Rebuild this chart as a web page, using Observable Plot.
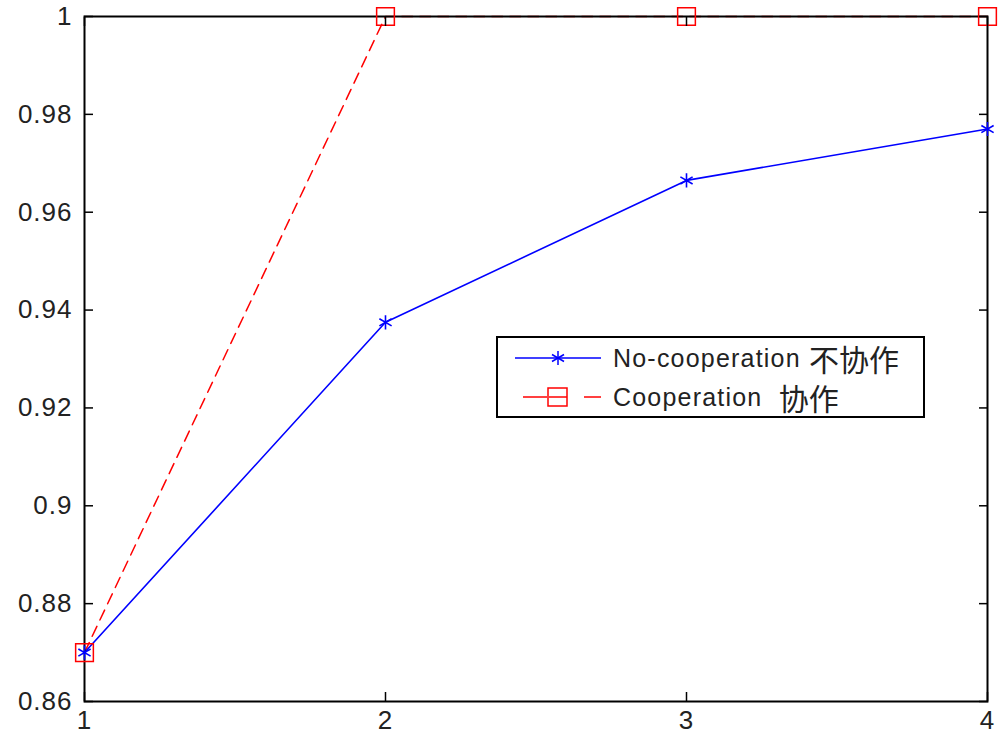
<!DOCTYPE html>
<html><head><meta charset="utf-8">
<script src="https://cdn.jsdelivr.net/npm/d3@7"></script>
<script src="https://cdn.jsdelivr.net/npm/@observablehq/plot@0.6"></script>
<style>
body{margin:0;background:#fff}
#wrap{position:relative;width:998px;height:737px}
.legend{position:absolute;left:496px;top:336px;width:429px;height:82px;border:2px solid #000;background:#fff;
 font-family:"Liberation Sans","Noto Sans CJK SC",Arial,sans-serif;font-size:25px;color:#222;box-sizing:border-box}
.row{position:absolute;left:0;height:32px;display:flex;align-items:center;white-space:pre}
.row svg{margin-left:15px;margin-right:10px}
.lat{letter-spacing:1.2px}
.cjk{font-family:"Noto Sans CJK SC",sans-serif;font-size:30px}
</style></head><body><div id="wrap"></div>
<script>
const xValues = [1, 2, 3, 4];
const noCoop = [0.87, 0.9375, 0.9665, 0.977];
const coop = [0.87, 1, 1, 1];
const yTicks = [0.86, 0.88, 0.9, 0.92, 0.94, 0.96, 0.98, 1];
const yTickLabels = ["0.86", "0.88", "0.9", "0.92", "0.94", "0.96", "0.98", "1"];
const xTickLabels = ["1", "2", "3", "4"];
const seriesNames = ["No-cooperation 不协作", "Cooperation  协作"];

const noData = xValues.map((x, i) => ({x, y: noCoop[i]}));
const coData = xValues.map((x, i) => ({x, y: coop[i]}));

const font = '"Liberation Sans","Noto Sans CJK SC",Arial,sans-serif';
const chart = Plot.plot({
  width: 998, height: 737,
  marginLeft: 84, marginRight: 11, marginTop: 16, marginBottom: 36,
  x: {domain: [1, 4]},
  y: {domain: [0.86, 1]},
  style: {fontFamily: font, fontSize: "26px", color: "#222", background: "#fff", letterSpacing: "1px"},
  marks: [
    Plot.line(coData, {x: "x", y: "y", stroke: "#ff0000", strokeWidth: 1.5, strokeDasharray: "11,7"}),
    Plot.line(noData, {x: "x", y: "y", stroke: "#0000ff", strokeWidth: 1.6}),
    Plot.frame({stroke: "#000", strokeWidth: 2}),
    Plot.dot(noData, {x: "x", y: "y", symbol: "asterisk", r: 6.7, stroke: "#0000ff", strokeWidth: 1.6}),
    Plot.dot(coData, {x: "x", y: "y", symbol: "square", r: 10, stroke: "#ff0000", fill: "none", strokeWidth: 1.5}),
    Plot.axisY(yTicks, {anchor: "left", tickSize: -9, tickFormat: () => "", label: null, stroke: "#000", strokeWidth: 1.5}),
    Plot.axisY(yTicks, {anchor: "right", tickSize: -9, tickFormat: () => "", label: null, stroke: "#000", strokeWidth: 1.5}),
    Plot.axisY(yTicks, {anchor: "left", tickSize: 0, tickPadding: 12, tickFormat: d => yTickLabels[yTicks.indexOf(d)], label: null}),
    Plot.axisX(xValues, {anchor: "bottom", tickSize: -9, tickFormat: () => "", label: null, stroke: "#000", strokeWidth: 1.5}),
    Plot.axisX(xValues, {anchor: "top", tickSize: -9, tickFormat: () => "", label: null, stroke: "#000", strokeWidth: 1.5}),
    Plot.axisX(xValues, {anchor: "bottom", tickSize: 0, tickPadding: 9, tickFormat: d => xTickLabels[xValues.indexOf(d)], label: null})
  ]
});
const wrap = document.getElementById("wrap");
wrap.appendChild(chart);

function splitName(s) {
  return s.replace(/([^\u4e00-\u9fff]+)|([\u4e00-\u9fff]+)/g, (m, a, b) =>
    a ? `<span class="lat">${a}</span>` : `<span class="cjk">${b}</span>`);
}
const legend = document.createElement("div");
legend.className = "legend";
legend.innerHTML = `
<div class="row" style="top:4px"><svg width="90" height="20"><line x1="2" y1="10" x2="88" y2="10" stroke="#0000ff" stroke-width="1.5"/>
<g stroke="#0000ff" stroke-width="1.5"><line x1="45" y1="3" x2="45" y2="17"/><line x1="39" y1="6.5" x2="51" y2="13.5"/><line x1="39" y1="13.5" x2="51" y2="6.5"/></g></svg>${splitName(seriesNames[0])}</div>
<div class="row" style="top:43px"><svg width="90" height="24"><line x1="10" y1="12" x2="34" y2="12" stroke="#ff0000" stroke-width="1.5"/><line x1="71" y1="12" x2="88" y2="12" stroke="#ff0000" stroke-width="1.5"/><line x1="36" y1="12" x2="54" y2="12" stroke="#ff0000" stroke-width="1.5"/>
<rect x="35" y="3" width="19" height="18" fill="none" stroke="#ff0000" stroke-width="1.5"/></svg>${splitName(seriesNames[1])}</div>`;
wrap.appendChild(legend);
</script>
</body></html>
